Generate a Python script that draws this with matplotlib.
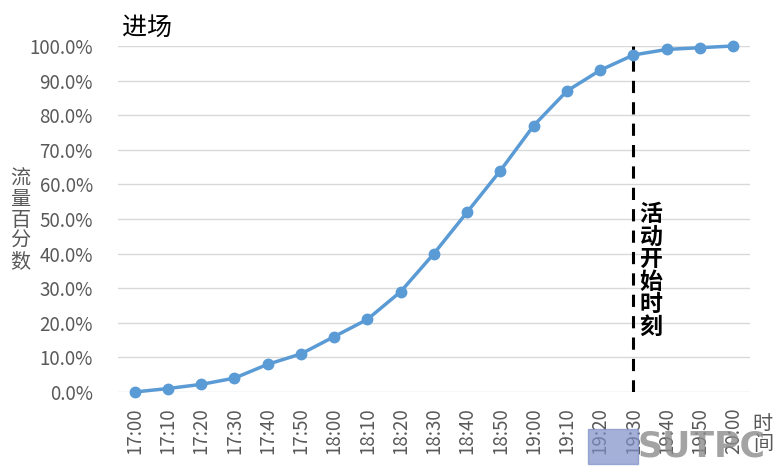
import numpy as np
import matplotlib
matplotlib.use('Agg')
import matplotlib.pyplot as plt
import matplotlib.ticker as mticker
import matplotlib.patches as mpatches

plt.rcParams['font.family'] = ['Noto Sans CJK SC', 'DejaVu Sans']

# ---- data ----
times = ['17:00', '17:10', '17:20', '17:30', '17:40', '17:50', '18:00',
         '18:10', '18:20', '18:30', '18:40', '18:50', '19:00', '19:10',
         '19:20', '19:30', '19:40', '19:50', '20:00']
share = [0.0, 1.0, 2.2, 4.0, 8.0, 11.0, 16.0, 21.0, 29.0, 40.0, 52.0,
         64.0, 77.0, 87.0, 93.0, 97.4, 99.0, 99.5, 100.0]
event_time = '19:30'

GRID = '#d9d9d9'
TXT = '#595959'
LINE = '#5b9bd5'

fig = plt.figure(figsize=(7.84, 4.74), dpi=100)
ax = fig.add_axes([0.1505, 0.173, 0.806, 0.730])

x = np.arange(len(times))
ax.plot(x, share, '-o', color=LINE, linewidth=2.5, markersize=7.5,
        zorder=5, clip_on=False)

# event marker
ex = times.index(event_time)
ax.axvline(ex, ymin=0, ymax=1, color='black', linestyle=(0, (4, 3)),
           linewidth=2.2, zorder=4)
ax.text(ex + 0.18, 35, '\n'.join('活动开始时刻'), ha='left', va='center',
        fontsize=16.5, fontweight='bold', linespacing=0.97, color='black')

ax.set_xlim(-0.5, len(times) - 0.5)
ax.set_ylim(0, 100)
ax.set_yticks(np.arange(0, 101, 10))
ax.yaxis.set_major_formatter(mticker.FuncFormatter(lambda v, p: f'{v:.1f}%'))
ax.set_xticks(x)
ax.set_xticklabels(times, rotation=90)
ax.tick_params(axis='both', length=0, colors=TXT, labelsize=13.5)
ax.tick_params(axis='y', pad=18)
ax.tick_params(axis='x', pad=11)

ax.grid(axis='y', color=GRID, linewidth=1)
ax.set_axisbelow(True)
for s in ax.spines.values():
    s.set_visible(False)

# titles / axis labels (stacked vertical chars)
fig.text(0.155, 0.942, '进场', fontsize=18, color='black', ha='left', va='center')
fig.text(0.026, 0.535, '\n'.join('流量百分数'), fontsize=14.5, color=TXT,
         ha='center', va='center', linespacing=0.98)
fig.text(0.973, 0.083, '\n'.join('时间'), fontsize=14.5, color=TXT,
         ha='center', va='center', linespacing=0.98)

# watermark (logo block + text)
fig.patches.append(mpatches.Rectangle((0.75, 0.022), 0.064, 0.072,
                                      transform=fig.transFigure,
                                      color='#7f8fc8', alpha=0.7, zorder=10))
fig.text(0.895, 0.057, 'SUTPC', fontsize=25, fontweight='bold', color='#8c8c8c',
         alpha=0.8, ha='center', va='center', family='DejaVu Sans', zorder=11)

fig.savefig('out.png', dpi=100)
